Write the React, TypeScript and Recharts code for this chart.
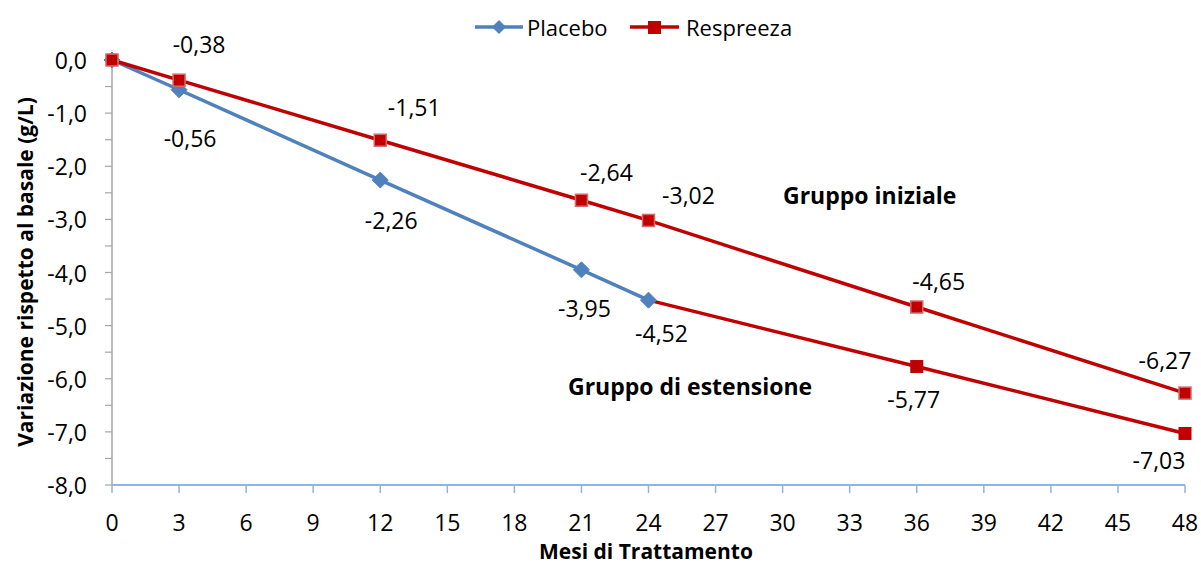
import React from "react";
import { LineChart, Line, XAxis, YAxis, LabelList } from "recharts";

const MONTHS = [0, 3, 12, 21, 24, 36, 48];
const PLACEBO = [0, -0.56, -2.26, -3.95, -4.52, null, null];
const RESPREEZA = [0, -0.38, -1.51, -2.64, -3.02, -4.65, -6.27];
const EXTENSION = [null, null, null, null, -4.52, -5.77, -7.03];

const X_TICKS = [0, 3, 6, 9, 12, 15, 18, 21, 24, 27, 30, 33, 36, 39, 42, 45, 48];
const Y_TICKS = [0, -0.5, -1, -1.5, -2, -2.5, -3, -3.5, -4, -4.5, -5, -5.5, -6, -6.5, -7, -7.5, -8];

const BLUE = "#4F81BD";
const RED = "#C00000";
const FONT = "'Open Sans', sans-serif";

// label placement (dx, dy from the marker), like the hand-placed Excel labels
const PLACEBO_LABEL_OFFSETS: ([number, number] | null)[] = [null, [11, 48], [11, 40], [3, 38], [13, 33], null, null];
const RESPREEZA_LABEL_OFFSETS: ([number, number] | null)[] = [null, [20, -36], [34, -33], [25, -28], [40, -25], [22, -26], [-20, -33]];
const EXTENSION_LABEL_OFFSETS: ([number, number] | null)[] = [null, null, null, null, null, [-3, 32], [-26, 27]];

const data = MONTHS.map((m, i) => ({
  month: m,
  placebo: PLACEBO[i],
  respreeza: RESPREEZA[i],
  extension: EXTENSION[i],
}));

const fmt = (v: number) => v.toFixed(2).replace(".", ",");

function makeLabel(offsets: ([number, number] | null)[]) {
  return (props: any) => {
    const { x, y, value, index } = props;
    const off = offsets[index];
    if (!off || value == null) return null;
    return (
      <text
        x={x + off[0]}
        y={y + off[1]}
        textAnchor="middle"
        dominantBaseline="central"
        fontFamily={FONT}
        fontSize={23}
        fill="#000"
      >
        {fmt(value)}
      </text>
    );
  };
}

const Diamond = (props: any) => {
  const { cx, cy, value } = props;
  if (value == null || cx == null) return null;
  const r = 8;
  return (
    <polygon
      points={`${cx},${cy - r} ${cx + r},${cy} ${cx},${cy + r} ${cx - r},${cy}`}
      fill={BLUE}
      stroke={BLUE}
      strokeWidth={1}
    />
  );
};

const SquareInit = (props: any) => {
  const { cx, cy, value } = props;
  if (value == null || cx == null) return null;
  return <rect x={cx - 6} y={cy - 6} width={12} height={12} fill={RED} stroke="#D46A6A" strokeWidth={1.5} />;
};

const SquareExt = (props: any) => {
  const { cx, cy, value, index } = props;
  if (value == null || cx == null || index === 4) return null;
  return <rect x={cx - 6.5} y={cy - 6.5} width={13} height={13} fill={RED} />;
};

const YTick = (props: any) => {
  const { x, y, payload } = props;
  if (!Number.isInteger(payload.value)) return <g />;
  return (
    <text x={x} y={y} textAnchor="end" dominantBaseline="central" fontFamily={FONT} fontSize={23} fill="#000">
      {payload.value.toFixed(1).replace(".", ",")}
    </text>
  );
};

const XTick = (props: any) => {
  const { x, y, payload } = props;
  return (
    <text x={x} y={y} textAnchor="middle" dominantBaseline="central" fontFamily={FONT} fontSize={23} fill="#000">
      {payload.value}
    </text>
  );
};

const boldText: React.CSSProperties = {
  position: "absolute",
  fontFamily: FONT,
  fontWeight: 700,
  fontSize: 21,
  color: "#000",
  whiteSpace: "nowrap",
  lineHeight: 1,
};

const legendText: React.CSSProperties = {
  position: "absolute",
  top: 16,
  fontFamily: FONT,
  fontSize: 22,
  lineHeight: 1,
  color: "#000",
  whiteSpace: "nowrap",
};

export default function App() {
  return (
    <div style={{ position: "absolute", left: 0, top: 0, width: 1201, height: 569, background: "#fff" }}>
      <LineChart width={1201} height={569} data={data} margin={{ top: 60, right: 16, left: 0, bottom: 0 }}>
        <XAxis
          dataKey="month"
          type="number"
          domain={[0, 48]}
          ticks={X_TICKS}
          interval={0}
          height={84}
          axisLine={{ stroke: "#8EB4E3", strokeWidth: 2 }}
          tickLine={{ stroke: "#8EB4E3", strokeWidth: 1.5 }}
          tickSize={8}
          tickMargin={29}
          tick={XTick}
        />
        <YAxis
          type="number"
          domain={[-8, 0]}
          ticks={Y_TICKS}
          interval={0}
          width={112}
          axisLine={{ stroke: "#A6A6A6", strokeWidth: 1.5 }}
          tickLine={{ stroke: "#A6A6A6", strokeWidth: 1.2 }}
          tickSize={7}
          tickMargin={18}
          tick={YTick}
        />
        <Line
          dataKey="extension"
          stroke={RED}
          strokeWidth={3.5}
          dot={SquareExt}
          activeDot={false}
          isAnimationActive={false}
        >
          <LabelList dataKey="extension" content={makeLabel(EXTENSION_LABEL_OFFSETS)} />
        </Line>
        <Line
          dataKey="placebo"
          stroke={BLUE}
          strokeWidth={3.5}
          dot={Diamond}
          activeDot={false}
          isAnimationActive={false}
        >
          <LabelList dataKey="placebo" content={makeLabel(PLACEBO_LABEL_OFFSETS)} />
        </Line>
        <Line
          dataKey="respreeza"
          stroke={RED}
          strokeWidth={3.5}
          dot={SquareInit}
          activeDot={false}
          isAnimationActive={false}
        >
          <LabelList dataKey="respreeza" content={makeLabel(RESPREEZA_LABEL_OFFSETS)} />
        </Line>
      </LineChart>

      {/* legend */}
      <svg width={210} height={20} style={{ position: "absolute", left: 474, top: 17 }}>
        <line x1={1} y1={10} x2={49} y2={10} stroke={BLUE} strokeWidth={3.5} />
        <polygon points="25,3 32,10 25,17 18,10" fill={BLUE} />
        <line x1={156} y1={10} x2={205} y2={10} stroke={RED} strokeWidth={3.5} />
        <rect x={174} y={4} width={13} height={13} fill={RED} />
      </svg>
      <div style={{ ...legendText, left: 527 }}>Placebo</div>
      <div style={{ ...legendText, left: 686 }}>Respreeza</div>

      {/* annotations */}
      <div style={{ ...boldText, fontSize: 23, left: 783, top: 184 }}>Gruppo iniziale</div>
      <div style={{ ...boldText, fontSize: 23, left: 568, top: 375 }}>Gruppo di estensione</div>

      {/* axis titles */}
      <div style={{ ...boldText, left: 646, top: 541, transform: "translateX(-50%)" }}>Mesi di Trattamento</div>
      <div
        style={{
          ...boldText,
          left: 25,
          top: 272,
          transform: "translate(-50%, -50%) rotate(-90deg)",
        }}
      >
        Variazione rispetto al basale (g/L)
      </div>
    </div>
  );
}
